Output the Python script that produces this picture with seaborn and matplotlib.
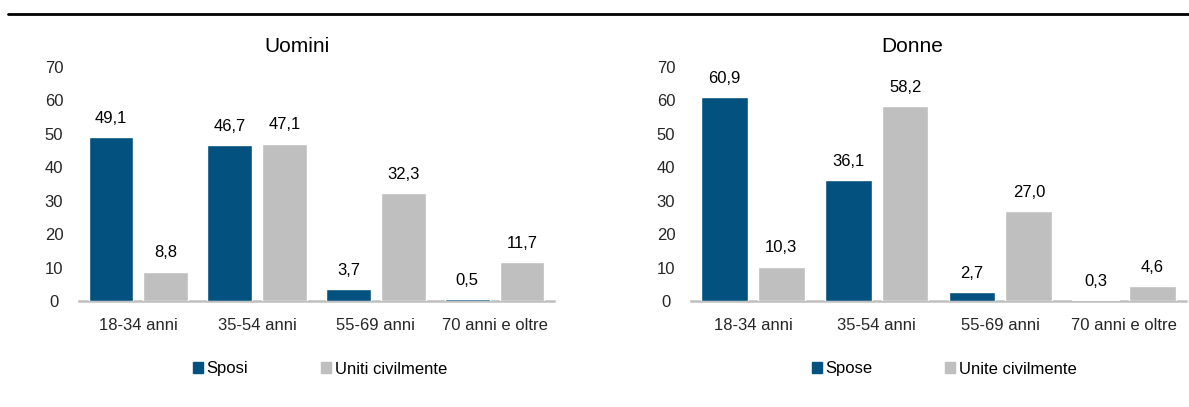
import matplotlib
matplotlib.use("Agg")
import matplotlib.pyplot as plt
import pandas as pd
import seaborn as sns
from matplotlib.lines import Line2D
from matplotlib.patches import Patch

# dati
eta = ["18-34 anni", "35-54 anni", "55-69 anni", "70 anni e oltre"]
uomini_sposi = [49.1, 46.7, 3.7, 0.5]
uomini_uniti = [8.8, 47.1, 32.3, 11.7]
donne_spose = [60.9, 36.1, 2.7, 0.3]
donne_unite = [10.3, 58.2, 27.0, 4.6]
yticks = [0, 10, 20, 30, 40, 50, 60, 70]

BLU = "#03517e"
GRIGIO = "#bfbfbf"
W, H = 1189, 407
FS = 12

sns.set_theme(style="white")
plt.rcParams["font.family"] = ["Liberation Sans", "DejaVu Sans"]
plt.rcParams["text.color"] = "black"

fig = plt.figure(figsize=(W / 100, H / 100), dpi=100)
ax1 = fig.add_axes([79 / W, 106 / H, 475 / W, 234 / H])
ax2 = fig.add_axes([691 / W, 106 / H, 495 / W, 234 / H])


def pannello(ax, v1, v2, nomi, titolo, xt, xleg):
    df = pd.DataFrame({
        "eta": eta * 2,
        "valore": v1 + v2,
        "tipo": [nomi[0]] * 4 + [nomi[1]] * 4,
    })
    sns.barplot(data=df, x="eta", y="valore", hue="tipo", palette=[BLU, GRIGIO],
                width=0.92, gap=0.18, saturation=1, errorbar=None,
                legend=False, ax=ax)
    for cont in ax.containers:
        etich = [f"{v:.1f}".replace(".", ",") for v in cont.datavalues]
        ax.bar_label(cont, labels=etich, padding=8, fontsize=FS)
    ax.set_ylim(0, 70)
    ax.set_xlim(-0.5, 3.5)
    ax.set_yticks(yticks)
    ax.set_xlabel("")
    ax.set_ylabel("")
    for s in ["left", "right", "top"]:
        ax.spines[s].set_visible(False)
    # linea base grigia sotto le barre
    ax.spines["bottom"].set_color(GRIGIO)
    ax.spines["bottom"].set_linewidth(1.8)
    ax.spines["bottom"].set_zorder(0.5)
    ax.tick_params(axis="y", length=0, pad=18, labelsize=FS)
    ax.tick_params(axis="x", length=0, pad=12, labelsize=FS)
    for t in ax.get_yticklabels():
        t.set_horizontalalignment("center")
    fig.text(xt / W, 1 - 47 / H, titolo, ha="center", va="center", fontsize=15)
    fig.legend(handles=[Patch(color=BLU, label=nomi[0]), Patch(color=GRIGIO, label=nomi[1])],
               loc="center", bbox_to_anchor=(xleg / W, 1 - 369 / H),
               bbox_transform=fig.transFigure, ncol=2, frameon=False,
               handlelength=0.6, handleheight=0.6, handletextpad=0.2,
               columnspacing=4.4, fontsize=FS)


pannello(ax1, uomini_sposi, uomini_uniti, ["Sposi", "Uniti civilmente"], "Uomini", 297, 320)
pannello(ax2, donne_spose, donne_unite, ["Spose", "Unite civilmente"], "Donne", 912, 944)

# linea in alto
fig.add_artist(Line2D([8 / W, 1], [1 - 14 / H, 1 - 14 / H], color="black", lw=2,
                      transform=fig.transFigure))

fig.savefig("out.png", dpi=100)
